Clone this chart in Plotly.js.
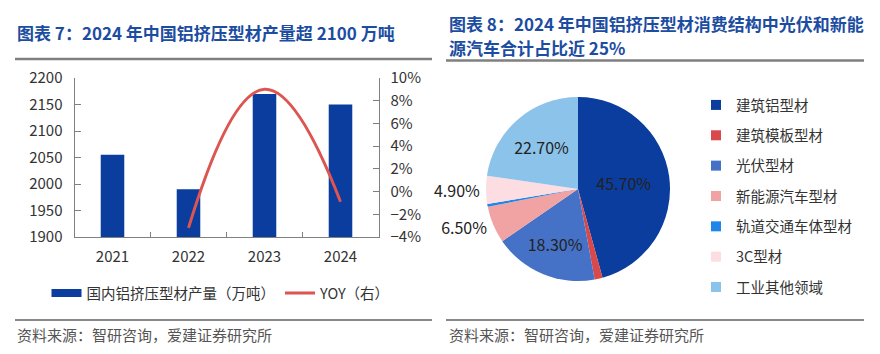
<!DOCTYPE html>
<html>
<head>
<meta charset="utf-8">
<script src="https://cdn.plot.ly/plotly-3.0.1.min.js"></script>
<style>
  html, body { margin: 0; padding: 0; background: #fff; }
  #chart { width: 880px; height: 354px; }
</style>
</head>
<body>
<div id="chart"></div>
<script>
// ---- Data: figure 7 ----
const years = ['2021', '2022', '2023', '2024'];
const output = [2055, 1990, 2170, 2150];          // 万吨
const yoy = [null, -3.2, 9.0, -0.9];              // %
const barName = '国内铝挤压型材产量（万吨）';
const lineName = 'YOY（右）';

// ---- Data: figure 8 ----
const pieLabels = ['建筑铝型材', '建筑模板型材', '光伏型材', '新能源汽车型材', '轨道交通车体型材', '3C型材', '工业其他领域'];
const pieValues = [45.7, 1.4, 18.3, 6.5, 0.5, 4.9, 22.7];
const pieColors = ['#0B3D9F', '#D9484A', '#4571C6', '#F1A3A4', '#1E86E8', '#FBDDE2', '#8CC3EA'];
const pieTextPos = ['inside', 'none', 'inside', 'outside', 'none', 'outside', 'inside'];

const title7 = '图表 7：2024 年中国铝挤压型材产量超 2100 万吨';
const title8a = '图表 8：2024 年中国铝挤压型材消费结构中光伏和新能';
const title8b = '源汽车合计占比近 25%';
const source = '资料来源：智研咨询，爱建证券研究所';

const W = 880, H = 354;
const px = v => v / W;
const py = v => 1 - v / H;
const FONT = 'Noto Sans CJK SC, Noto Sans, sans-serif';
const axisColor = '#808080';
const barColor = '#0B3D9F';

const traces = [
  {
    type: 'bar', x: years, y: output, name: barName,
    marker: { color: barColor }, width: 0.31, showlegend: false,
    xaxis: 'x', yaxis: 'y', hoverinfo: 'x+y'
  },
  // legend entry for the bars, drawn as a wide swatch like the reference
  {
    type: 'scatter', mode: 'lines', x: [null], y: [null], name: barName,
    line: { color: barColor, width: 8 }, xaxis: 'x', yaxis: 'y', hoverinfo: 'skip'
  },
  {
    type: 'scatter', mode: 'lines', x: years, y: yoy, name: lineName,
    line: { color: '#DC5550', width: 3, shape: 'spline', smoothing: 1.3 },
    xaxis: 'x', yaxis: 'y2', connectgaps: false
  },
  {
    type: 'pie', labels: pieLabels, values: pieValues,
    marker: { colors: pieColors, line: { width: 0 } },
    sort: false, direction: 'clockwise', rotation: 0,
    texttemplate: '%{value:.2f}%', textposition: pieTextPos,
    insidetextorientation: 'horizontal',
    insidetextfont: { color: '#222', size: 16, family: FONT },
    outsidetextfont: { color: '#222', size: 16, family: FONT },
    domain: { x: [px(486), px(670)], y: [py(281), py(97)] },
    showlegend: false, automargin: false
  }
];

// Legend entries for the pie slices (one group each so the legend can be spaced like the reference)
pieLabels.forEach((lab, i) => {
  traces.push({
    type: 'scatter', mode: 'markers', x: [null], y: [null], name: lab,
    marker: { symbol: 'square', size: 10, color: pieColors[i] },
    legend: 'legend2', legendgroup: 'g' + i, showlegend: true,
    xaxis: 'x', yaxis: 'y', hoverinfo: 'skip'
  });
});

const layout = {
  width: W, height: H,
  margin: { l: 0, r: 0, t: 0, b: 0 },
  paper_bgcolor: '#fff', plot_bgcolor: '#fff',
  font: { family: FONT, color: '#333', size: 15 },
  showlegend: true,
  xaxis: {
    domain: [px(74.5), px(378.5)], anchor: 'y',
    type: 'category', showline: true, linecolor: axisColor, linewidth: 1,
    ticks: 'inside', tickson: 'boundaries', ticklen: 5, tickcolor: axisColor,
    showgrid: false, zeroline: false, ticklabelstandoff: 6,
    tickfont: { size: 15, color: '#333' }, fixedrange: true
  },
  yaxis: {
    domain: [py(237), py(78)], anchor: 'x',
    range: [1900, 2200], dtick: 50, showline: true, linecolor: axisColor,
    ticks: 'inside', ticklen: 6, tickcolor: axisColor,
    showgrid: false, zeroline: false, ticklabelstandoff: 8,
    tickfont: { size: 15, color: '#333' }, fixedrange: true
  },
  yaxis2: {
    overlaying: 'y', side: 'right', anchor: 'x',
    range: [-4, 10], dtick: 2, ticksuffix: '%', showline: true, linecolor: axisColor,
    ticks: 'inside', ticklen: 6, tickcolor: axisColor,
    showgrid: false, zeroline: false, ticklabelstandoff: 8,
    tickfont: { size: 15, color: '#333' }, fixedrange: true
  },
  legend: {
    orientation: 'h', x: px(221), xanchor: 'center', y: py(293), yanchor: 'middle',
    font: { size: 14.5, color: '#333' }, bgcolor: 'rgba(0,0,0,0)'
  },
  legend2: {
    orientation: 'v', x: px(696), xanchor: 'left', y: py(89), yanchor: 'top',
    traceorder: 'grouped', tracegroupgap: 8.5,
    font: { size: 14.5, color: '#333' }, bgcolor: 'rgba(0,0,0,0)'
  },
  annotations: [
    { xref: 'paper', yref: 'paper', x: px(15), y: py(33), xanchor: 'left', yanchor: 'middle',
      text: '<b>' + title7 + '</b>', showarrow: false, font: { size: 17, color: '#1C4DA1' } },
    { xref: 'paper', yref: 'paper', x: px(447), y: py(23), xanchor: 'left', yanchor: 'middle',
      text: '<b>' + title8a + '</b>', showarrow: false, font: { size: 17, color: '#1C4DA1' } },
    { xref: 'paper', yref: 'paper', x: px(447), y: py(47.5), xanchor: 'left', yanchor: 'middle',
      text: '<b>' + title8b + '</b>', showarrow: false, font: { size: 17, color: '#1C4DA1' } },
    { xref: 'paper', yref: 'paper', x: px(15), y: py(334), xanchor: 'left', yanchor: 'middle',
      text: source, showarrow: false, font: { size: 15, color: '#555' } },
    { xref: 'paper', yref: 'paper', x: px(447), y: py(334), xanchor: 'left', yanchor: 'middle',
      text: source, showarrow: false, font: { size: 15, color: '#555' } }
  ],
  shapes: [
    { type: 'line', xref: 'paper', yref: 'paper', x0: px(15), x1: px(432), y0: py(59), y1: py(59), line: { color: '#7f7f7f', width: 2.5 } },
    { type: 'line', xref: 'paper', yref: 'paper', x0: px(446), x1: px(864), y0: py(60.5), y1: py(60.5), line: { color: '#7f7f7f', width: 2.5 } },
    { type: 'line', xref: 'paper', yref: 'paper', x0: px(15), x1: px(432), y0: py(320), y1: py(320), line: { color: '#606060', width: 1.5 } },
    { type: 'line', xref: 'paper', yref: 'paper', x0: px(446), x1: px(864), y0: py(320), y1: py(320), line: { color: '#606060', width: 1.5 } }
  ]
};

Plotly.newPlot('chart', traces, layout, { displayModeBar: false, staticPlot: true });
</script>
</body>
</html>
